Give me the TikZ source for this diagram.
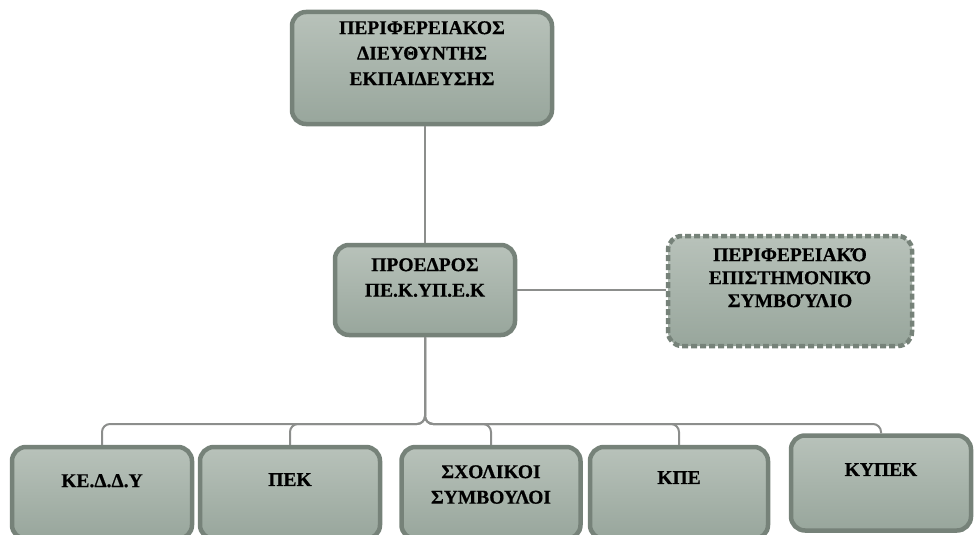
\documentclass[tikz,border=0pt]{standalone}
\usepackage{fontspec}
\setmainfont{Liberation Serif}[BoldFeatures={FakeBold=0.6}]
\usetikzlibrary{calc}
\definecolor{boxtop}{RGB}{184,194,186}
\definecolor{boxbot}{RGB}{152,166,156}
\definecolor{boxline}{RGB}{118,130,121}
\definecolor{connline}{RGB}{140,142,140}
\begin{document}
\begin{tikzpicture}[x=1pt,y=-1pt,
  box/.style={draw=boxline, line width=4.5pt, rounded corners=14pt,
    top color=boxtop, bottom color=boxbot, inner sep=0pt},
  dashbox/.style={box, dash pattern=on 6pt off 3pt},
  txt/.style={font=\bfseries\fontsize{19.5}{25.5}\selectfont, align=center,
    anchor=north, inner sep=0pt, text=black},
  conn/.style={draw=connline, line width=2pt}]
\useasboundingbox (0,0) rectangle (974,535);
% boxes
\node[box, minimum width=260pt, minimum height=112pt] (top) at (422,68) {};
\node[box, minimum width=180pt, minimum height=90pt] (center) at (425,290) {};
\node[dashbox, minimum width=244pt, minimum height=110pt] (right) at (790,291) {};
\node[box, minimum width=180pt, minimum height=92pt] (keddy) at (102,493) {};
\node[box, minimum width=180pt, minimum height=92pt] (pek) at (290,493) {};
\node[box, minimum width=179pt, minimum height=92pt] (sxol) at (491,493) {};
\node[box, minimum width=178pt, minimum height=92pt] (kpe) at (679,493) {};
\node[box, minimum width=180pt, minimum height=95pt] (kypek) at (881,483) {};
% texts
\node[txt] (ttop) at (422,21) {ΠΕΡΙΦΕΡΕΙΑΚΟΣ\\ΔΙΕΥΘΥΝΤΗΣ\\ΕΚΠΑΙΔΕΥΣΗΣ};
\node[txt] (tcenter) at (425,258) {ΠΡΟΕΔΡΟΣ\\ΠΕ.Κ.ΥΠ.Ε.Κ};
\node[txt, font=\bfseries\fontsize{19.5}{23}\selectfont] (tright) at (790,248) {ΠΕΡΙΦΕΡΕΙΑΚΌ\\ΕΠΙΣΤΗΜΟΝΙΚΌ\\ΣΥΜΒΟΎΛΙΟ};
\node[txt] (tkeddy) at (102,474) {ΚΕ.Δ.Δ.Υ};
\node[txt] (tpek) at (290,473) {ΠΕΚ};
\node[txt] (tsxol) at (491,465) {ΣΧΟΛΙΚΟΙ\\ΣΥΜΒΟΥΛΟΙ};
\node[txt] (tkpe) at (679,471) {ΚΠΕ};
\node[txt] (tkypek) at (881,463) {ΚΥΠΕΚ};
% connectors
\coordinate (bar) at (0,424);
\draw[conn] (center.north |- top.south) -- (center.north);
\draw[conn] (center.east) -- (center.east -| right.west);
\foreach \c in {keddy,pek,sxol,kpe,kypek}
  \draw[conn, rounded corners=8pt] (center.south) |- (\c.north |- bar) -- (\c.north);
\end{tikzpicture}
\end{document}
